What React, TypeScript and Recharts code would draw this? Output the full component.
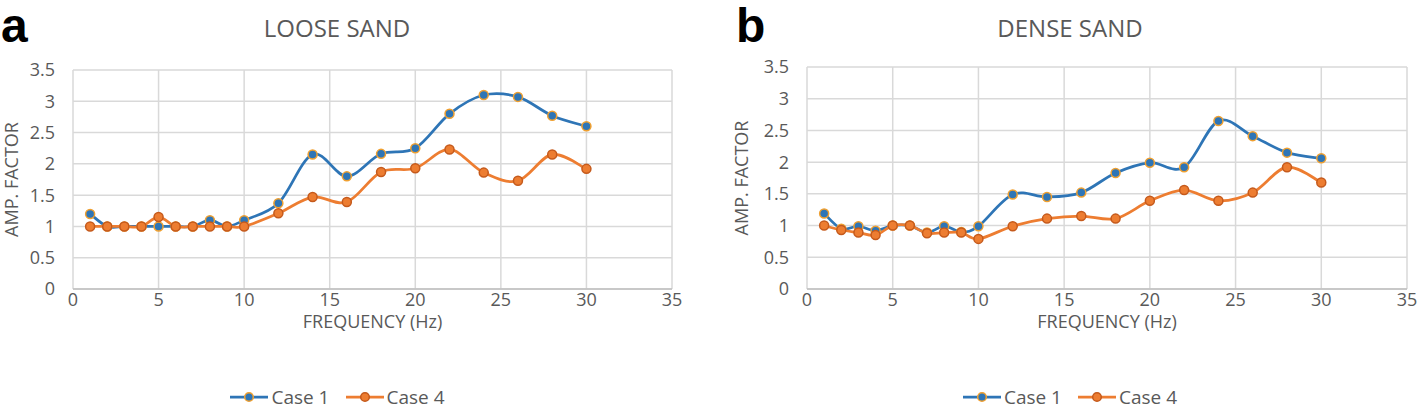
import React from 'react';
import { LineChart, Line, XAxis, YAxis, CartesianGrid, Legend } from 'recharts';

// frequency (Hz) of each measured point
const freq = [1, 2, 3, 4, 5, 6, 7, 8, 9, 10, 12, 14, 16, 18, 20, 22, 24, 26, 28, 30];

// amplification factor, loose sand
const looseCase1 = [1.2, 1, 1, 1, 1, 1, 1, 1.1, 1, 1.1, 1.37, 2.15, 1.8, 2.16, 2.25, 2.8, 3.1, 3.07, 2.77, 2.6];
const looseCase4 = [1, 1, 1, 1, 1.15, 1, 1, 1, 1, 1, 1.21, 1.47, 1.39, 1.87, 1.93, 2.23, 1.86, 1.73, 2.15, 1.92];

// amplification factor, dense sand
const denseCase1 = [1.19, 0.95, 0.99, 0.92, 1, 1, 0.89, 0.99, 0.9, 0.99, 1.49, 1.45, 1.52, 1.83, 1.99, 1.92, 2.65, 2.41, 2.15, 2.06];
const denseCase4 = [1, 0.93, 0.89, 0.85, 1, 1, 0.88, 0.89, 0.89, 0.79, 0.99, 1.11, 1.15, 1.11, 1.39, 1.56, 1.39, 1.52, 1.92, 1.68];

const xTicks = [0, 5, 10, 15, 20, 25, 30, 35];
const yTicks = [0, 0.5, 1, 1.5, 2, 2.5, 3, 3.5];

const FONT = '"Open Sans", sans-serif';
const TEXT = '#595959';
const BLUE = '#2E75B6';
const BLUE_EDGE = '#F0A030';
const ORANGE = '#ED7D31';
const ORANGE_EDGE = '#C55A1C';

// Excel-style smoothed line (Catmull-Rom through the points)
const excelSmooth = (context: any) => {
  let pts: [number, number][] = [];
  return {
    areaStart() {},
    areaEnd() {},
    lineStart() {
      pts = [];
    },
    point(x: number, y: number) {
      pts.push([+x, +y]);
    },
    lineEnd() {
      const n = pts.length;
      if (!n) return;
      context.moveTo(pts[0][0], pts[0][1]);
      for (let i = 0; i < n - 1; i++) {
        const p0 = pts[Math.max(i - 1, 0)];
        const p1 = pts[i];
        const p2 = pts[i + 1];
        const p3 = pts[Math.min(i + 2, n - 1)];
        context.bezierCurveTo(
          p1[0] + (p2[0] - p0[0]) / 6,
          p1[1] + (p2[1] - p0[1]) / 6,
          p2[0] - (p3[0] - p1[0]) / 6,
          p2[1] - (p3[1] - p1[1]) / 6,
          p2[0],
          p2[1]
        );
      }
    },
  };
};

const legendItems = [
  { name: 'Case 1', line: BLUE, fill: BLUE, edge: BLUE_EDGE },
  { name: 'Case 4', line: ORANGE, fill: ORANGE, edge: ORANGE_EDGE },
];

function LegendContent() {
  return (
    <div style={{ display: 'flex', justifyContent: 'center', gap: 16, height: 26, lineHeight: '26px', fontFamily: FONT, fontSize: 19, color: TEXT }}>
      {legendItems.map((item) => (
        <span key={item.name} style={{ display: 'flex', alignItems: 'center' }}>
          <svg width={38} height={12}>
            <line x1={0} y1={6} x2={38} y2={6} stroke={item.line} strokeWidth={2.75} />
            <circle cx={19} cy={6} r={4.3} fill={item.fill} stroke={item.edge} strokeWidth={1.5} />
          </svg>
          <span style={{ marginLeft: 3 }}>{item.name}</span>
        </span>
      ))}
    </div>
  );
}

interface PanelProps {
  case1: number[];
  case4: number[];
  width: number;
  top: number;
  right: number;
  yAxisWidth: number;
}

function Panel({ case1, case4, width, top, right, yAxisWidth }: PanelProps) {
  const rows = freq.map((f, i) => ({ f, c1: case1[i], c4: case4[i] }));
  const tickStyle = { fill: TEXT, fontSize: 18, fontFamily: FONT };

  return (
    <LineChart width={width} height={410} data={rows} margin={{ top, right, bottom: 0, left: 3 }}>
      <CartesianGrid stroke='#d9d9d9' strokeWidth={1.5} />
      <XAxis
        dataKey='f'
        type='number'
        domain={[0, 35]}
        ticks={xTicks}
        height={95}
        tick={tickStyle}
        tickLine={false}
        tickSize={0}
        tickMargin={4}
        axisLine={{ stroke: '#bfbfbf', strokeWidth: 1.5 }}
        label={{ value: 'FREQUENCY (Hz)', position: 'insideTop', offset: 26, style: { ...tickStyle } }}
      />
      <YAxis
        type='number'
        domain={[0, 3.5]}
        ticks={yTicks}
        width={yAxisWidth}
        tick={tickStyle}
        tickLine={false}
        tickSize={0}
        tickMargin={18}
        axisLine={false}
        label={{
          value: 'AMP. FACTOR',
          angle: -90,
          position: 'insideLeft',
          offset: 9,
          textAnchor: 'middle',
          style: { ...tickStyle, textAnchor: 'middle' },
        }}
      />
      <Legend verticalAlign='bottom' height={26} content={<LegendContent />} />
      <Line
        dataKey='c1'
        name='Case 1'
        type={excelSmooth as any}
        stroke={BLUE}
        strokeWidth={2.75}
        dot={{ r: 4.5, fill: BLUE, stroke: BLUE_EDGE, strokeWidth: 1.5 }}
        isAnimationActive={false}
      />
      <Line
        dataKey='c4'
        name='Case 4'
        type={excelSmooth as any}
        stroke={ORANGE}
        strokeWidth={2.75}
        dot={{ r: 4.5, fill: ORANGE, stroke: ORANGE_EDGE, strokeWidth: 1.5 }}
        isAnimationActive={false}
      />
    </LineChart>
  );
}

const titleStyle: React.CSSProperties = {
  position: 'absolute',
  top: 16,
  fontFamily: FONT,
  fontSize: 24,
  lineHeight: '24px',
  color: TEXT,
  textAlign: 'center',
};

const letterStyle: React.CSSProperties = {
  position: 'absolute',
  top: 6,
  fontFamily: '"Liberation Sans", Arial, sans-serif',
  fontWeight: 'bold',
  fontSize: 48,
  lineHeight: '40px',
  color: '#000',
};

export default function App() {
  return (
    <div style={{ position: 'absolute', left: 0, top: 0, width: 1417, height: 410, background: '#fff', overflow: 'hidden' }}>
      <div style={{ position: 'absolute', left: 0, top: 0 }}>
        <Panel case1={looseCase1} case4={looseCase4} width={690} top={70} right={18} yAxisWidth={70} />
      </div>
      <div style={{ position: 'absolute', left: 730, top: 0 }}>
        <Panel case1={denseCase1} case4={denseCase4} width={687} top={67} right={10} yAxisWidth={74} />
      </div>
      <div style={{ ...titleStyle, left: 0, width: 674 }}>LOOSE SAND</div>
      <div style={{ ...titleStyle, left: 733, width: 674 }}>DENSE SAND</div>
      <div style={{ ...letterStyle, left: 1 }}>a</div>
      <div style={{ ...letterStyle, left: 736 }}>b</div>
    </div>
  );
}
